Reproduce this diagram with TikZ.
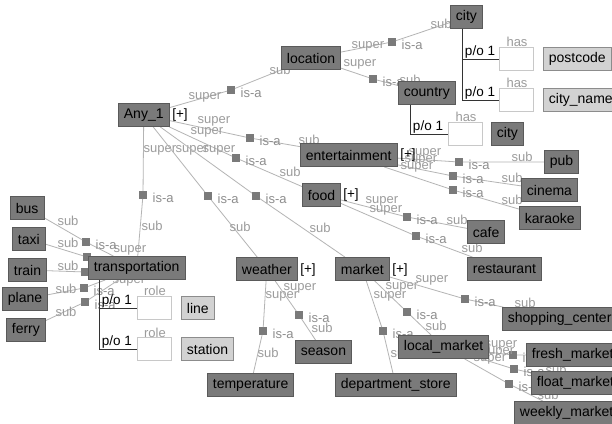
\documentclass[tikz,border=0pt]{standalone}
\usepackage{fontspec}
\setmainfont{Liberation Sans}
\usetikzlibrary{calc}
\pgfdeclarelayer{bg}
\pgfdeclarelayer{paper}
\pgfsetlayers{paper,bg,main}
\definecolor{nodefill}{HTML}{7A7A7A}
\definecolor{nodeedge}{HTML}{5A5A5A}
\definecolor{lightfill}{HTML}{D2D2D2}
\definecolor{lightedge}{HTML}{8C8C8C}
\definecolor{connc}{HTML}{B4B4B4}
\definecolor{lblc}{HTML}{9C9C9C}
\definecolor{isac}{HTML}{8E8E8E}
\definecolor{sqc}{HTML}{7A7A7A}
\definecolor{wbedge}{HTML}{C8C8C8}
\tikzset{
 concept/.style={draw=nodeedge, fill=nodefill, line width=0.8pt, minimum height=23pt, inner xsep=5.5pt, inner ysep=0pt, anchor=west, font=\fontsize{14}{16}\selectfont, text=black},
 attr/.style={concept, draw=lightedge, fill=lightfill},
 slot/.style={draw=wbedge, fill=white, line width=0.8pt, minimum width=34pt, minimum height=23pt, inner sep=0pt, anchor=west},
 conn/.style={draw=connc, line width=0.8pt},
 sq/.style={fill=sqc, minimum size=7.5pt, inner sep=0pt},
 lbl/.style={text=lblc, font=\fontsize{13}{15}\selectfont, inner sep=0pt},
 isatxt/.style={lbl, text=isac, anchor=west},
 blk/.style={text=black, font=\fontsize{13.5}{15}\selectfont, inner sep=0pt},
 pol/.style={draw=black!80, line width=0.8pt},
}
\newcommand\isarel[6]{%
  \node[sq] (q#1) at (#4) {};
  \draw[conn] (#2) -- (q#1) -- (#3);
  \node[lbl] (sp#1) at (#5) {super};
  \node[lbl] (sb#1) at (#6) {sub};
  \node[isatxt] (ia#1) at ([xshift=5.5pt,yshift=-3pt]q#1.east) {is-a};
}
\newcommand\isarelb[5]{%
  \node[sq] (q#1) at (#4) {};
  \draw[conn] (#2) -- (q#1) -- (#3);
  \node[lbl] (sb#1) at (#5) {sub};
}
\newcommand\isarelc[5]{%
  \node[sq] (q#1) at (#4) {};
  \draw[conn] (#2) -- (q#1) -- (#3);
  \node[lbl] (sb#1) at (#5) {sub};
  \node[isatxt] (ia#1) at ([xshift=5.5pt,yshift=-3pt]q#1.east) {is-a};
}
\begin{document}
\begin{tikzpicture}[x=1pt,y=-1pt]
\useasboundingbox (0,0) rectangle (612,423);
\begin{pgfonlayer}{paper}
\fill[white] (0,0) rectangle (612,423);
\end{pgfonlayer}
% concepts
\node[concept] (city) at (450,17) {city};
\node[concept] (location) at (281,58) {location};
\node[concept] (country) at (398,93) {country};
\node[attr] (postcode) at (543,59) {postcode};
\node[attr] (cityname) at (543,100) {city\_name};
\node[concept] (city2) at (491,134) {city};
\node[slot] (wb1) at (499,59) {};
\node[slot] (wb2) at (499,100) {};
\node[slot] (wb3) at (448,134) {};
\node[concept] (any) at (118,115) {Any\_1};
\node[concept] (ent) at (300,155) {entertainment};
\node[concept] (food) at (302,195) {food};
\node[concept] (pub) at (544,162) {pub};
\node[concept] (cinema) at (521,190) {cinema};
\node[concept] (karaoke) at (519,218) {karaoke};
\node[concept] (cafe) at (467,232) {cafe};
\node[concept] (rest) at (467,269) {restaurant};
\node[concept] (weather) at (236,269) {weather};
\node[concept] (market) at (335,269) {market};
\node[concept] (season) at (295,352) {season};
\node[concept] (temp) at (207,385) {temperature};
\node[concept] (dept) at (335,385) {department\_store};
\node[concept] (local) at (398,347) {local\_market};
\node[concept] (shop) at (502,319) {shopping\_center};
\node[concept] (fresh) at (526,355) {fresh\_market};
\node[concept] (float) at (531,383) {float\_market};
\node[concept] (weekly) at (514,413) {weekly\_market};
\node[concept] (bus) at (10,208) {bus};
\node[concept] (taxi) at (12,239) {taxi};
\node[concept] (train) at (8,270) {train};
\node[concept] (plane) at (2,299) {plane};
\node[concept] (ferry) at (6,330) {ferry};
\node[concept] (trans) at (88,268) {transportation};
\node[attr] (line) at (181,308) {line};
\node[attr] (station) at (181,349) {station};
\node[slot] (wb4) at (137,308) {};
\node[slot] (wb5) at (137,349) {};
% part-of links
\draw[pol] ([xshift=-4.5pt]city.south) |- (wb1.west);
\draw[pol] ([xshift=-4.5pt]city.south) |- (wb2.west);
\draw[pol] ([xshift=12.5pt]country.south west) |- (wb3.west);
\draw[pol] ([xshift=11pt]trans.south west) |- (wb4.west);
\draw[pol] ([xshift=11pt]trans.south west) |- (wb5.west);
\node[blk] (po1) at (480,52) {p/o 1};
\node[blk] (po2) at (480,93) {p/o 1};
\node[blk] (po3) at (428,127) {p/o 1};
\node[blk] (po4) at (117,301) {p/o 1};
\node[blk] (po5) at (117,342) {p/o 1};
\node[lbl] (has1) at (517,42) {has};
\node[lbl] (has2) at (517,83) {has};
\node[lbl] (has3) at (466,117) {has};
\node[lbl] (role1) at (155,291) {role};
\node[lbl] (role2) at (155,333) {role};
% expand markers
\node[blk] (pl1) at (180,115) {[+]};
\node[blk] (pl2) at (408,155) {[+]};
\node[blk] (pl3) at (351,195) {[+]};
\node[blk] (pl4) at (308,270) {[+]};
\node[blk] (pl5) at (400,270) {[+]};
% is-a relations
\begin{pgfonlayer}{bg}
\isarel{a}{location}{city}{392,42}{368,46}{441,24}
\isarel{b}{location}{country}{373,79}{360,64}{410,80}
\isarel{c}{any}{location}{231,90}{205,97}{280,70}
\isarel{d}{any}{ent}{250,138}{214,121}{309,140}
\isarel{e}{any}{food}{236,158}{207,132}{290,172}
\isarel{f}{any}{trans}{143,195}{160,150}{152,226}
\isarel{g}{any}{weather}{208,196}{192,150}{240,227}
\isarel{h}{any}{market}{256,196}{219,150}{320,228}
\isarel{i}{ent}{pub}{459,162}{425,153}{522,157}
\isarel{j}{ent}{cinema}{453,176}{421,160}{512,178}
\isarel{k}{ent}{karaoke}{453,190}{417,167}{512,200}
\isarel{l}{food}{cafe}{407,217}{382,201}{457,220}
\isarel{m}{food}{rest}{416,236}{386,210}{472,248}
\isarel{n}{weather}{temp}{263,331}{282,296}{268,353}
\isarel{o}{weather}{season}{299,315}{300,288}{322,328}
\isarel{p}{market}{dept}{383,331}{390,296}{401,353}
\isarel{q}{market}{local}{407,312}{402,287}{436,326}
\isarel{r}{market}{shop}{465,299}{432,280}{525,303}
\isarel{s}{local}{fresh}{513,355}{501,345}{545,352}
\isarel{t}{local}{float}{514,369}{498,352}{556,370}
\isarel{u}{local}{weekly}{509,384}{490,359}{548,395}
\isarel{v}{trans}{bus}{86,242}{130,250}{68,221}
\isarelb{w}{trans}{taxi}{87,257}{68,243}
\isarelb{x}{trans}{train}{85,272}{68,266}
\isarel{y}{trans}{plane}{84,288}{129,281}{66,289}
\isarelc{z}{trans}{ferry}{85,302}{66,312}
\end{pgfonlayer}
\end{tikzpicture}
\end{document}
